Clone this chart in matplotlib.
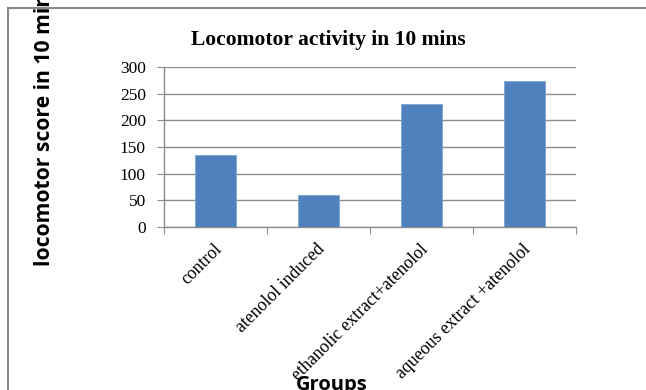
import matplotlib
matplotlib.use("Agg")
import matplotlib.pyplot as plt
from matplotlib.lines import Line2D

categories = ["control", "atenolol induced", "ethanolic extract+atenolol", "aqueous extract +atenolol"]
values = [135, 60, 230, 274]
yticks = [0, 50, 100, 150, 200, 250, 300]

W, H = 646, 390
fig = plt.figure(figsize=(W / 100, H / 100), dpi=100)
ax = fig.add_axes([164 / W, (H - 227) / H, (576 - 164) / W, 160 / H])

x = list(range(len(categories)))
ax.bar(x, values, width=0.39, color="#4F81BD", edgecolor="#7FA3D0", linewidth=0.6, zorder=3)
ax.set_xlim(-0.5, len(categories) - 0.5)
ax.set_ylim(0, 300)
ax.set_yticks(yticks)
ax.set_yticklabels([str(v) for v in yticks], fontfamily="Liberation Serif", fontsize=12.5)
ax.yaxis.grid(True, color="#8C8C8C", linewidth=1.0, zorder=0)
ax.set_axisbelow(True)

ax.set_xticks([i - 0.5 for i in range(len(categories) + 1)])
ax.set_xticklabels([])
for i, name in zip(x, categories):
    ax.annotate(name, xy=(i, 0), xycoords=("data", "axes fraction"),
                xytext=(7, -10), textcoords="offset points",
                rotation=45, ha="right", va="top",
                fontfamily="Liberation Serif", fontsize=12.8, annotation_clip=False)
ax.tick_params(axis="x", which="major", length=5, color="#8C8C8C", direction="out")
ax.tick_params(axis="y", length=5, color="#8C8C8C", direction="out", pad=8)

for s in ["top", "right"]:
    ax.spines[s].set_visible(False)
for s in ["left", "bottom"]:
    ax.spines[s].set_color("#8C8C8C")
    ax.spines[s].set_linewidth(1.0)

fig.text(328 / W, (H - 40) / H, "Locomotor activity in 10 mins", ha="center", va="center",
         fontfamily="Liberation Serif", fontweight="bold", fontsize=15.5)

fig.text(45 / W, (H - 266) / H, "locomotor score in 10 mins", rotation=90, ha="center", va="bottom",
         fontfamily="Open Sans", fontweight="bold", fontsize=15.2, zorder=5)

fig.text(332 / W, (H - 375) / H, "Groups", ha="center", va="top",
         fontfamily="Open Sans", fontweight="bold", fontsize=14.5)

# outer frame (partly cropped)
fig.add_artist(Line2D([8 / W, 1.0], [(H - 8) / H, (H - 8) / H], color="#8A8A8A", linewidth=1.5,
                      transform=fig.transFigure, zorder=1))
fig.add_artist(Line2D([8 / W, 8 / W], [(H - 8) / H, 0], color="#8A8A8A", linewidth=1.5,
                      transform=fig.transFigure, zorder=1))

fig.savefig("out.png", dpi=100)
